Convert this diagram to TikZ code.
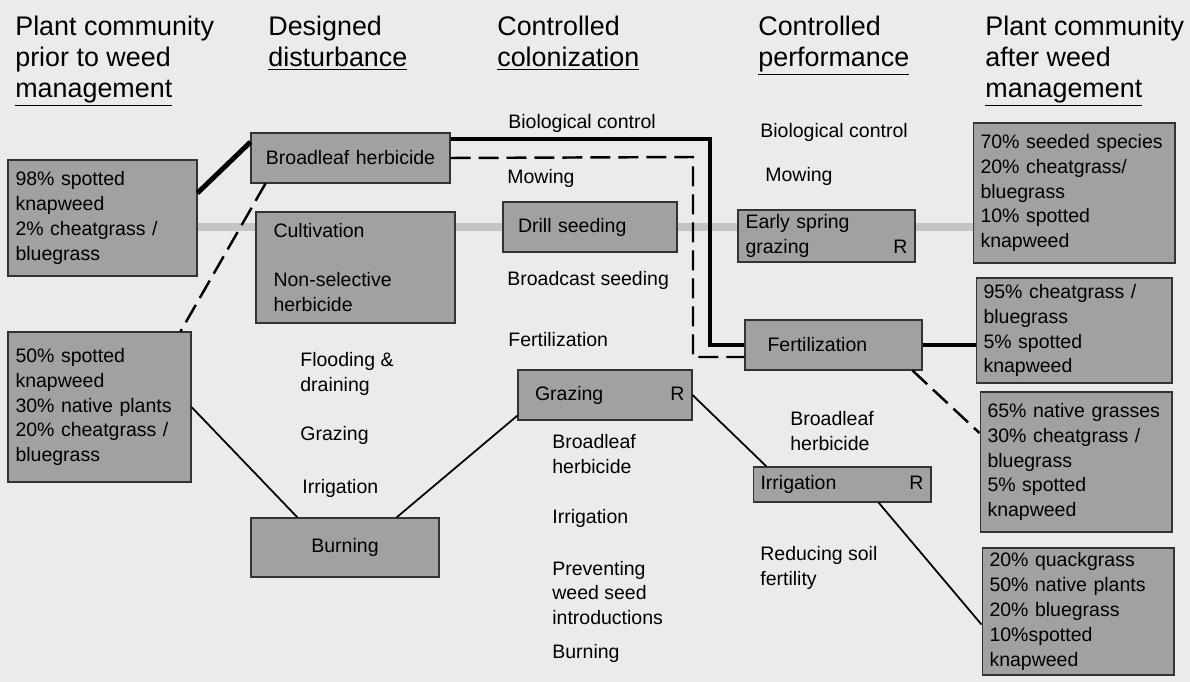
\documentclass[tikz,border=0pt]{standalone}
\usepackage{fontspec}
\setmainfont{Liberation Sans}
\usetikzlibrary{positioning}
\definecolor{paper}{gray}{0.92}
\definecolor{boxgray}{gray}{0.63}
\definecolor{bandgray}{gray}{0.77}
\newcommand{\headfont}{\fontsize{15.3}{17.6}\selectfont}
\newcommand{\bodyfont}{\fontsize{11.1}{14.2}\selectfont}

\begin{document}
\begin{tikzpicture}[x=0.02cm,y=-0.02cm,
    box node/.style={draw=black!80,fill=boxgray,line width=0.6pt,inner xsep=0.15cm,inner ysep=0pt,align=left,font=\bodyfont},
    text node/.style={inner sep=0pt,align=left,anchor=west,font=\bodyfont},
    head node/.style={inner sep=0pt,align=left,anchor=north west,font=\headfont},
    thick link/.style={line width=2.8pt},
    dash link/.style={line width=1.4pt,dash pattern=on 0.4cm off 0.16cm},
    thin link/.style={line width=1pt},
    band link/.style={line width=0.16cm,bandgray}]

\fill[paper] (0,0) rectangle (1190,682);
\useasboundingbox (0,0) rectangle (1190,682);

\node[head node] (h1) at (15,16) {Plant community\\prior to weed\\\underline{management}};
\node[head node] (h2) at (268,16) {Designed\\\underline{disturbance}};
\node[head node] (h3) at (497,16) {Controlled\\\underline{colonization}};
\node[head node] (h4) at (758,16) {Controlled\\\underline{performance}};
\node[head node] (h5) at (985,16) {Plant community\\after weed\\\underline{management}};

\node[box node,text width=3.48cm,minimum height=2.32cm] (p98) at (102.5,218) {98\% spotted\\knapweed\\2\% cheatgrass /\\bluegrass};
\node[box node,text width=3.36cm,minimum height=3cm] (p50) at (99.5,407) {50\% spotted\\knapweed\\30\% native plants\\20\% cheatgrass /\\bluegrass};

\node[box node,text width=3.68cm,minimum height=1cm,align=center] (bl) at (350.5,158) {Broadleaf herbicide};
\node[box node,text width=3.68cm,minimum height=2.22cm] (cult) at (355.5,267.5) {\hspace*{0.2cm}Cultivation\\[0.5cm]\hspace*{0.2cm}Non-selective\\\hspace*{0.2cm}herbicide};
\node[text node] (flood) at (300,373.5) {Flooding \&\\draining};
\node[text node] (graz2) at (300,435) {Grazing};
\node[text node] (irr2) at (302,488) {Irrigation};
\node[box node,text width=3.46cm,minimum height=1.18cm,align=center] (burn) at (345,547.5) {Burning};

\node[text node] (bio3) at (508,123) {Biological control};
\node[text node] (mow3) at (507,178) {Mowing};
\node[box node,text width=3.18cm,minimum height=1cm] (drill) at (590,227) {\hspace*{0.15cm}Drill seeding};
\node[text node] (bcast) at (507,280) {Broadcast seeding};
\node[text node] (fert3) at (508,340) {Fertilization};
\node[box node,text width=3.18cm,minimum height=1cm] (graz3) at (605,395) {\hspace*{0.19cm}Grazing\hfill R\hspace*{0.43cm}};
\node[text node] (bh3) at (552,454.5) {Broadleaf\\herbicide};
\node[text node] (irr3) at (552,518) {Irrigation};
\node[text node] (prev) at (552,593) {Preventing\\weed seed\\introductions};
\node[text node] (burn3) at (552,653) {Burning};

\node[text node] (bio4) at (760,132) {Biological control};
\node[text node] (mow4) at (765,176) {Mowing};
\node[box node,text width=3.24cm,minimum height=1.04cm] (early) at (826.5,236) {Early spring\\grazing\hfill R};
\node[box node,text width=3.24cm,minimum height=1cm] (fert) at (833.5,345) {\hspace*{0.3cm}Fertilization};
\node[text node] (bh4) at (790,431.5) {Broadleaf\\herbicide};
\node[box node,text width=3.26cm,minimum height=0.7cm] (irrbox) at (842,484.5) {Irrigation\hfill R\hspace*{0.37cm}};
\node[text node] (soil) at (760,567.5) {Reducing soil\\fertility};

\node[box node,text width=3.74cm,minimum height=2.8cm] (a70) at (1074,193) {70\% seeded species\\20\% cheatgrass/\\bluegrass\\10\% spotted\\knapweed};
\node[box node,text width=3.62cm,minimum height=2.1cm] (a95) at (1074,330.5) {95\% cheatgrass /\\bluegrass\\5\% spotted\\knapweed};
\node[box node,text width=3.54cm,minimum height=2.8cm] (a65) at (1076,462) {65\% native grasses\\30\% cheatgrass /\\bluegrass\\5\% spotted\\knapweed};
\node[box node,text width=3.54cm,minimum height=2.54cm] (a20) at (1078,611.5) {20\% quackgrass\\50\% native plants\\20\% bluegrass\\10\%spotted\\knapweed};

\coordinate (tk) at (710,139);
\coordinate (dk) at (693,157);

\draw[band link] (p98.east |- drill) -- (cult.west |- drill);
\draw[band link] (cult.east |- drill) -- (drill.west);
\draw[band link] (drill.east) -- (early.west |- drill);
\draw[band link] (early.east |- drill) -- (a70.west |- drill);

\draw[thick link] ([yshift=0.5cm]p98.east) -- ([yshift=0.32cm]bl.west);
\draw[thick link] (bl.east |- tk) -- (tk) |- (fert.west);
\draw[thick link] (fert.east) -- (fert.east -| a95.west);

\draw[dash link] (bl.east) -- (dk) |- ([yshift=-0.24cm]fert.west);
\draw[dash link] ([xshift=0.3cm]bl.south west) -- ([xshift=-0.22cm]p50.north east);
\draw[dash link] ([xshift=-0.2cm]fert.south east) -- ([yshift=0.58cm]a65.west);

\draw[thin link] (p50.east) -- ([xshift=0.94cm]burn.north west);
\draw[thin link] ([yshift=0.1cm]graz3.south west) -- ([xshift=-0.86cm]burn.north east);
\draw[thin link] (graz3.east) -- ([xshift=0.28cm]irrbox.north west);
\draw[thin link] ([xshift=-1.06cm]irrbox.south east) -- ([yshift=-0.26cm]a20.west);
\end{tikzpicture}
\end{document}
